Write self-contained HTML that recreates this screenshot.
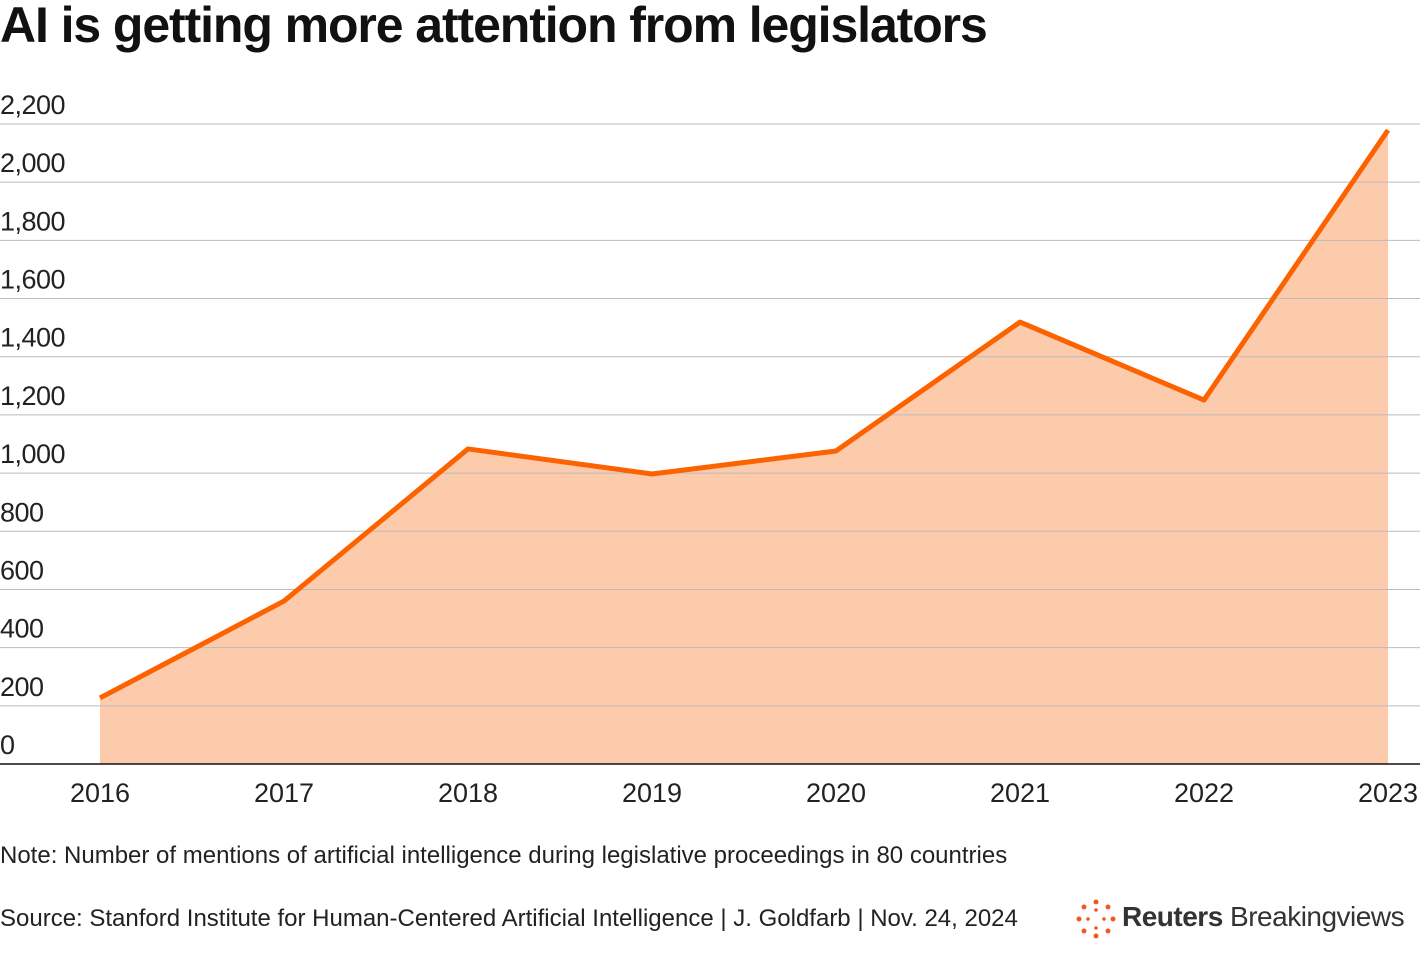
<!DOCTYPE html>
<html><head><meta charset="utf-8"><style>
body{margin:0;width:1420px;height:968px;background:#fff;font-family:"Liberation Sans",Arial,sans-serif;overflow:hidden;position:relative}
.t{position:absolute;white-space:nowrap;color:#111}
</style></head><body>
<div class="t" style="left:0;top:-4px;font-size:50px;font-weight:bold;letter-spacing:-1.1px">AI is getting more attention from legislators</div>
<svg id="c" width="1420" height="820" style="position:absolute;left:0;top:0"></svg>
<div class="t" style="left:0;top:842px;font-size:24px;color:#222;letter-spacing:0px">Note: Number of mentions of artificial intelligence during legislative proceedings in 80 countries</div>
<div class="t" style="left:0;top:905px;font-size:24px;color:#222;letter-spacing:0px">Source: Stanford Institute for Human-Centered Artificial Intelligence | J. Goldfarb | Nov. 24, 2024</div>
<svg width="42" height="42" style="position:absolute;left:1075px;top:898px">
<g fill="#f05a22"><circle cx="21" cy="4" r="2.5"/><circle cx="33" cy="9" r="2.5"/><circle cx="38" cy="21" r="2.5"/><circle cx="33" cy="33" r="2.5"/><circle cx="21" cy="38" r="2.5"/><circle cx="9" cy="33" r="2.5"/><circle cx="4" cy="21" r="2.5"/><circle cx="9" cy="9" r="2.5"/><circle cx="21" cy="12" r="1.8"/><circle cx="29" cy="21" r="1.8"/><circle cx="21" cy="30" r="1.8"/><circle cx="13" cy="21" r="1.8"/></g></svg>
<div class="t" style="left:1122px;top:901px;font-size:28px;letter-spacing:-0.5px;color:#333"><b>Reuters</b> Breakingviews</div>
<script>
const years=["2016","2017","2018","2019","2020","2021","2022","2023"];
const mentions=[227,560,1083,997,1076,1519,1251,2179];
const yTicks=[0,200,400,600,800,1000,1200,1400,1600,1800,2000,2200];
const svg=document.getElementById('c');const NS='http://www.w3.org/2000/svg';
const y0=764,yTop=124,yMax=2200,xL=100,xR=1388;
const ys=v=>y0-(v/yMax)*(y0-yTop);
const xs=i=>xL+i*(xR-xL)/(years.length-1);
function mk(t,a){const e=document.createElementNS(NS,t);for(const k in a)e.setAttribute(k,a[k]);svg.appendChild(e);return e;}
yTicks.forEach(v=>{
 const l=mk('line',{x1:0,x2:1420,y1:ys(v),y2:ys(v),stroke:v===0?'#111':'#bbb','stroke-width':v===0?1.5:1});
 
 
 const t=mk('text',{x:0,y:ys(v)-10,'font-size':27,fill:'#222','font-family':'Liberation Sans, sans-serif','letter-spacing':'-0.5'});
 t.textContent=v.toLocaleString('en-US');
 
 
});
let pts=mentions.map((v,i)=>xs(i)+','+ys(v));
const area=mk('polygon',{points:pts.join(' ')+' '+xs(years.length-1)+','+y0+' '+xs(0)+','+y0,fill:'#fccbac'});


const line=mk('polyline',{points:pts.join(' '),fill:'none',stroke:'#fc6200','stroke-width':5,'stroke-linejoin':'round'});


svg.insertBefore(area,svg.firstChild);
years.forEach((y,i)=>{
 const t=mk('text',{x:xs(i),y:802,'font-size':27,fill:'#222','text-anchor':'middle','font-family':'Liberation Sans, sans-serif'});
 t.textContent=y;
 
 
});
</script>
</body></html>
